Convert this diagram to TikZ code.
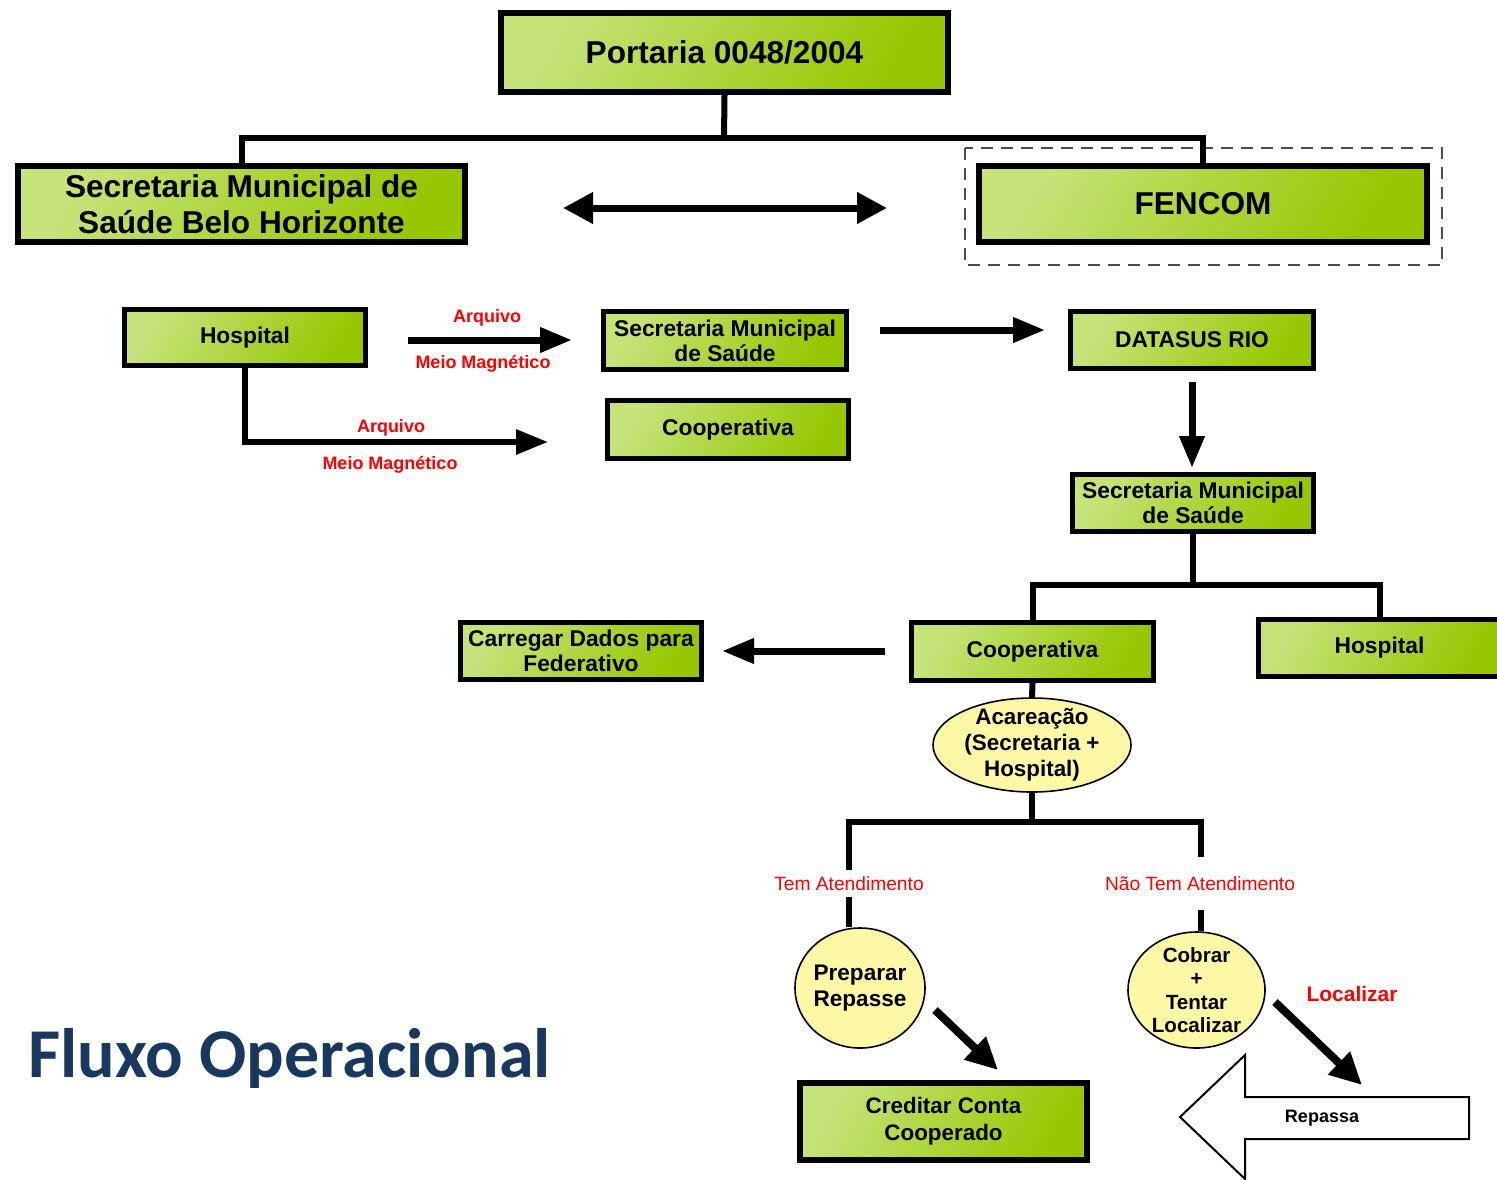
\documentclass[tikz,border=0pt]{standalone}
\usepackage{fontspec}
\setmainfont{Liberation Sans}
\newfontfamily\carl{Carlito}
\usetikzlibrary{arrows.meta,shapes.geometric}
\definecolor{gL}{RGB}{198,227,122}
\definecolor{gD}{RGB}{150,199,0}
\definecolor{yel}{RGB}{252,248,165}
\definecolor{blu}{RGB}{25,56,96}
\definecolor{rd}{RGB}{255,0,0}
\begin{document}
\begin{tikzpicture}[x=0.5pt,y=-0.5pt,
  gbox/.style={draw=black, line width=2.5pt, left color=gL, right color=gD, shading angle=60,
    align=center, inner sep=0pt, font=\bfseries\fontsize{11.4}{12.5}\selectfont},
  bigbox/.style={gbox, line width=3pt, font=\bfseries\fontsize{15.8}{18}\selectfont},
  yell/.style={ellipse, draw=black, line width=0.8pt, fill=yel, inner sep=0pt},
  lab/.style={align=center, inner sep=0pt},
  conn/.style={draw=black, line width=3pt},
  arr/.style={draw=black, line width=3.5pt, -{Triangle[length=16pt,width=12pt]}},
  redb/.style={text=rd, inner sep=1pt, font=\bfseries\fontsize{9}{10}\selectfont},
  redr/.style={text=rd, inner sep=1pt, font=\fontsize{9.6}{11}\selectfont},
]
\useasboundingbox (0,0) rectangle (1497,1179);
\clip (0,0) rectangle (1497,1179);

% top level
\node[bigbox, minimum width=223.5pt, minimum height=39.5pt] (port) at (724.5,52.5) {Portaria 0048/2004};
\node[bigbox, minimum width=223.5pt, minimum height=38pt] (sbh) at (241.5,204) {Secretaria Municipal de\\Saúde Belo Horizonte};
\node[bigbox, minimum width=224pt, minimum height=38pt] (fen) at (1203,204) {FENCOM};
\draw[draw=black!70, line width=0.8pt, dash pattern=on 6pt off 4pt] (965,148) rectangle (1442,265);

\coordinate (j1) at (724,138);
\draw[conn] (port.south) -- (j1);
\draw[conn] (sbh.north) |- (j1) -| (fen.north);

\coordinate (da1) at (563,208);
\coordinate (da2) at (887,208);
\draw[draw=black, line width=3.5pt, {Triangle[length=15pt,width=15pt]}-{Triangle[length=15pt,width=15pt]}] (da1) -- (da2);

% second row
\node[gbox, minimum width=120.5pt, minimum height=28pt] (hosp1) at (245,337.5) {Hospital};
\node[gbox, minimum width=121.5pt, minimum height=29pt] (sms1) at (725,340.5) {Secretaria Municipal\\de Saúde};
\node[gbox, minimum width=120.5pt, minimum height=29pt] (coop1) at (728,429.5) {Cooperativa};
\node[gbox, minimum width=121.5pt, minimum height=28.5pt] (ds) at (1192,340) {DATASUS RIO};
\node[gbox, minimum width=120.5pt, minimum height=28.5pt] (sms2) at (1193,503) {Secretaria Municipal\\de Saúde};

\coordinate (a1s) at (408,340);
\coordinate (a1e) at (572,340);
\draw[arr] (a1s) -- (a1e);
\node[redb] (l1) at (487,318) {Arquivo};
\node[redb] (l2) at (483,364) {Meio Magnético};

\coordinate (a2e) at (548,442);
\draw[arr, line width=3pt] (hosp1.south) |- (a2e);
\node[redb] (l3) at (391,428) {Arquivo};
\node[redb] (l4) at (390,465) {Meio Magnético};

\coordinate (a3s) at (880,330);
\coordinate (a3e) at (1045,330);
\draw[arr] (a3s) -- (a3e);

\coordinate (a4s) at (1192,382);
\coordinate (a4e) at (1192,468);
\draw[arr] (a4s) -- (a4e);

% third level
\node[gbox, minimum width=121pt, minimum height=29pt] (coop2) at (1032.5,651.5) {Cooperativa};
\node[gbox, minimum width=121pt, minimum height=28.5pt] (hosp2) at (1379.5,648) {Hospital};
\node[gbox, minimum width=120.5pt, minimum height=28.5pt] (carr) at (581,651) {Carregar Dados para\\Federativo};

\coordinate (j2) at (1193,585);
\draw[conn] (sms2.south) -- (j2);
\draw[conn] (coop2.north) |- (j2) -| (hosp2.north);

\coordinate (a5s) at (885,651);
\coordinate (a5e) at (722,651);
\draw[arr] (a5s) -- (a5e);

\node[yell, minimum width=99pt, minimum height=47pt,
  label={[lab, font=\bfseries\fontsize{11.2}{13}\selectfont]center:Acareação\\(Secretaria +\\Hospital)}] (acar) at (1032,745) {};
\draw[conn] (coop2.south) -- (acar.north);

\node[yell, minimum width=65pt, minimum height=60pt,
  label={[lab, font=\bfseries\fontsize{11.3}{13}\selectfont]center:Preparar\\Repasse}] (prep) at (860,988) {};
\node[yell, minimum width=68.5pt, minimum height=58pt,
  label={[lab, font=\bfseries\fontsize{10.3}{11.75}\selectfont]center:Cobrar\\+\\Tentar\\Localizar}] (cob) at (1196.5,990) {};

\coordinate (j3) at (1032,822);
\draw[conn] (acar.south) -- (j3);
\draw[conn] ([xshift=-5.5pt]prep.north) |- (j3) -| ([xshift=2pt]cob.north);
\node[redr, fill=white, minimum height=13.5pt] (t1) at (849,883.5) {Tem Atendimento};
\node[redr, fill=white, minimum height=26.5pt] (t2) at (1200,883.5) {Não Tem Atendimento};

\node[gbox, line width=3pt, minimum width=143.5pt, minimum height=38.5pt,
  font=\bfseries\fontsize{11.2}{13.5}\selectfont] (cred) at (943.5,1121.5) {Creditar Conta\\Cooperado};

\coordinate (a6s) at (935,1010);
\coordinate (a6e) at (998,1070);
\draw[draw=black, line width=4pt, -{Triangle[length=16pt,width=15pt]}] (a6s) -- (a6e);

\coordinate (a7s) at (1275,1002);
\coordinate (a7e) at (1362,1085);
\draw[draw=black, line width=4pt, -{Triangle[length=16pt,width=15pt]}] (a7s) -- (a7e);
\node[text=rd, inner sep=1pt, font=\bfseries\fontsize{10.5}{12}\selectfont] (loc) at (1352,994) {Localizar};

% big hollow arrow
\draw[draw=black, line width=1pt, fill=white, line join=miter]
  (1180,1117) -- (1245,1055) -- (1245,1097) -- (1469,1097) -- (1469,1139) -- (1245,1139) -- (1245,1179) -- cycle;
\node[inner sep=1pt, font=\bfseries\fontsize{9}{10}\selectfont] (rep) at (1322,1118) {Repassa};

\node[anchor=base west, inner sep=0pt, text=blu, font=\carl\bfseries\fontsize{35}{40}\selectfont] (fluxo) at (28,1077) {Fluxo Operacional};
\end{tikzpicture}
\end{document}
